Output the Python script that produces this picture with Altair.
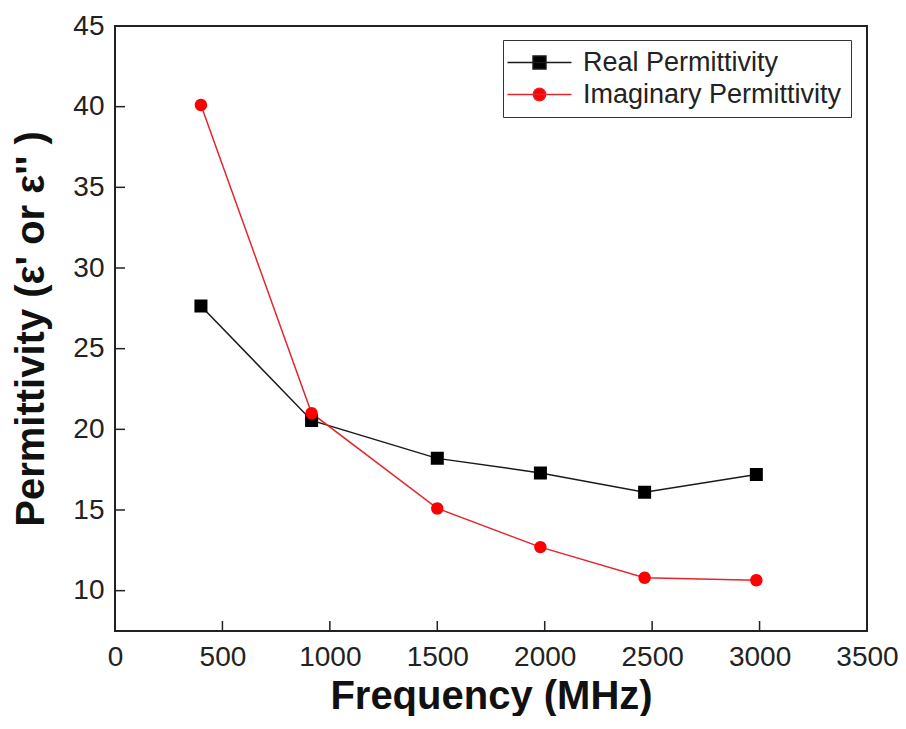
import altair as alt
import pandas as pd

# ---- data ----
freq = [400, 915, 1500, 1980, 2465, 2985]
real_perm = [27.65, 20.55, 18.2, 17.3, 16.1, 17.2]
imag_perm = [40.1, 21.0, 15.1, 12.7, 10.8, 10.65]
series_names = ["Real Permittivity", "Imaginary Permittivity"]
x_ticks = [500, 1000, 1500, 2000, 2500, 3000]
y_ticks = [10, 15, 20, 25, 30, 35, 40]

line_colors = ["#1a1a1a", "#e2262e"]
marker_colors = ["#000000", "#ff0000"]
# marker glyphs with a legend line through them (line part only shows when stroked)
sym_square = "M-3.2,0H3.2M-0.65,-0.65H0.65V0.65H-0.65Z"
sym_circle = "M-3.2,0H3.2M-0.62,0A0.62,0.62,0,1,1,0.62,0A0.62,0.62,0,1,1,-0.62,0Z"

rows = []
for f, r, i in zip(freq, real_perm, imag_perm):
    rows.append({"freq": f, "value": r, "series": series_names[0]})
    rows.append({"freq": f, "value": i, "series": series_names[1]})
df = pd.DataFrame(rows)

FONT = "Liberation Sans"
W, H = 752, 605

xscale = alt.Scale(domain=[0, 3500], nice=False, zero=False)
yscale = alt.Scale(domain=[7.5, 45], nice=False, zero=False)

xaxis = alt.Axis(values=[0, 500, 1000, 1500, 2000, 2500, 3000, 3500], format="d", ticks=False, tickSize=0,
                 domain=False, grid=False, labelFont=FONT, labelFontSize=28, labelColor="#222",
                 labelPadding=12, title="Frequency (MHz)", titleFont=FONT, titleFontSize=40,
                 titleFontWeight="bold", titleColor="#111", titleBaseline="alphabetic", titleY=77,
                 labelFlush=False, labelOverlap=False)
yaxis = alt.Axis(values=[10, 15, 20, 25, 30, 35, 40, 45], format="d", ticks=False, tickSize=0,
                 domain=False, grid=False, labelFont=FONT, labelFontSize=28, labelColor="#222",
                 labelPadding=11, title="Permittivity (ε' or ε'' )", titleFont=FONT,
                 titleFontSize=40, titleFontWeight="bold", titleColor="#111",
                 titleBaseline="alphabetic", titleX=-72, labelFlush=False, labelOverlap=False)

legend = alt.Legend(title=None, orient="none", legendX=388, legendY=14,
                    strokeColor="#333", padding=9, symbolSize=400, symbolStrokeWidth=1.4,
                    labelFont=FONT, labelFontSize=27, labelColor="#222", labelLimit=600,
                    symbolOffset=14, labelOffset=30, rowPadding=4)

base = alt.Chart(df)

lines = base.mark_line(strokeWidth=1.5).encode(
    x=alt.X("freq:Q", scale=xscale, axis=xaxis),
    y=alt.Y("value:Q", scale=yscale, axis=yaxis),
    color=alt.Color("series:N", scale=alt.Scale(domain=series_names, range=line_colors), legend=None),
    detail="series:N",
)

points = base.mark_point(filled=True, strokeWidth=0, opacity=1, size=400).encode(
    x=alt.X("freq:Q", scale=xscale),
    y=alt.Y("value:Q", scale=yscale),
    fill=alt.Fill("series:N", scale=alt.Scale(domain=series_names, range=marker_colors), legend=legend),
    stroke=alt.Stroke("series:N", scale=alt.Scale(domain=series_names, range=line_colors), legend=legend),
    shape=alt.Shape("series:N", scale=alt.Scale(domain=series_names, range=[sym_square, sym_circle]), legend=legend),
)

xt = pd.DataFrame({"t": x_ticks})
yt = pd.DataFrame({"t": y_ticks})
xtick_marks = alt.Chart(xt).mark_rule(color="#222", strokeWidth=1.5).encode(
    x=alt.X("t:Q", scale=xscale), y=alt.value(H), y2=alt.value(H - 10))
ytick_marks = alt.Chart(yt).mark_rule(color="#222", strokeWidth=1.5).encode(
    y=alt.Y("t:Q", scale=yscale), x=alt.value(0), x2=alt.value(10))

chart = alt.layer(lines, points, xtick_marks, ytick_marks).resolve_scale(
    color="independent"
).properties(
    width=W, height=H,
    autosize=alt.AutoSizeParams(type="none"),
    padding={"left": 107, "top": 18, "right": 31, "bottom": 85},
    background="white",
).configure_view(stroke="#222", strokeWidth=2)

chart.save("out.html", embed_options={"renderer": "svg", "actions": False})
